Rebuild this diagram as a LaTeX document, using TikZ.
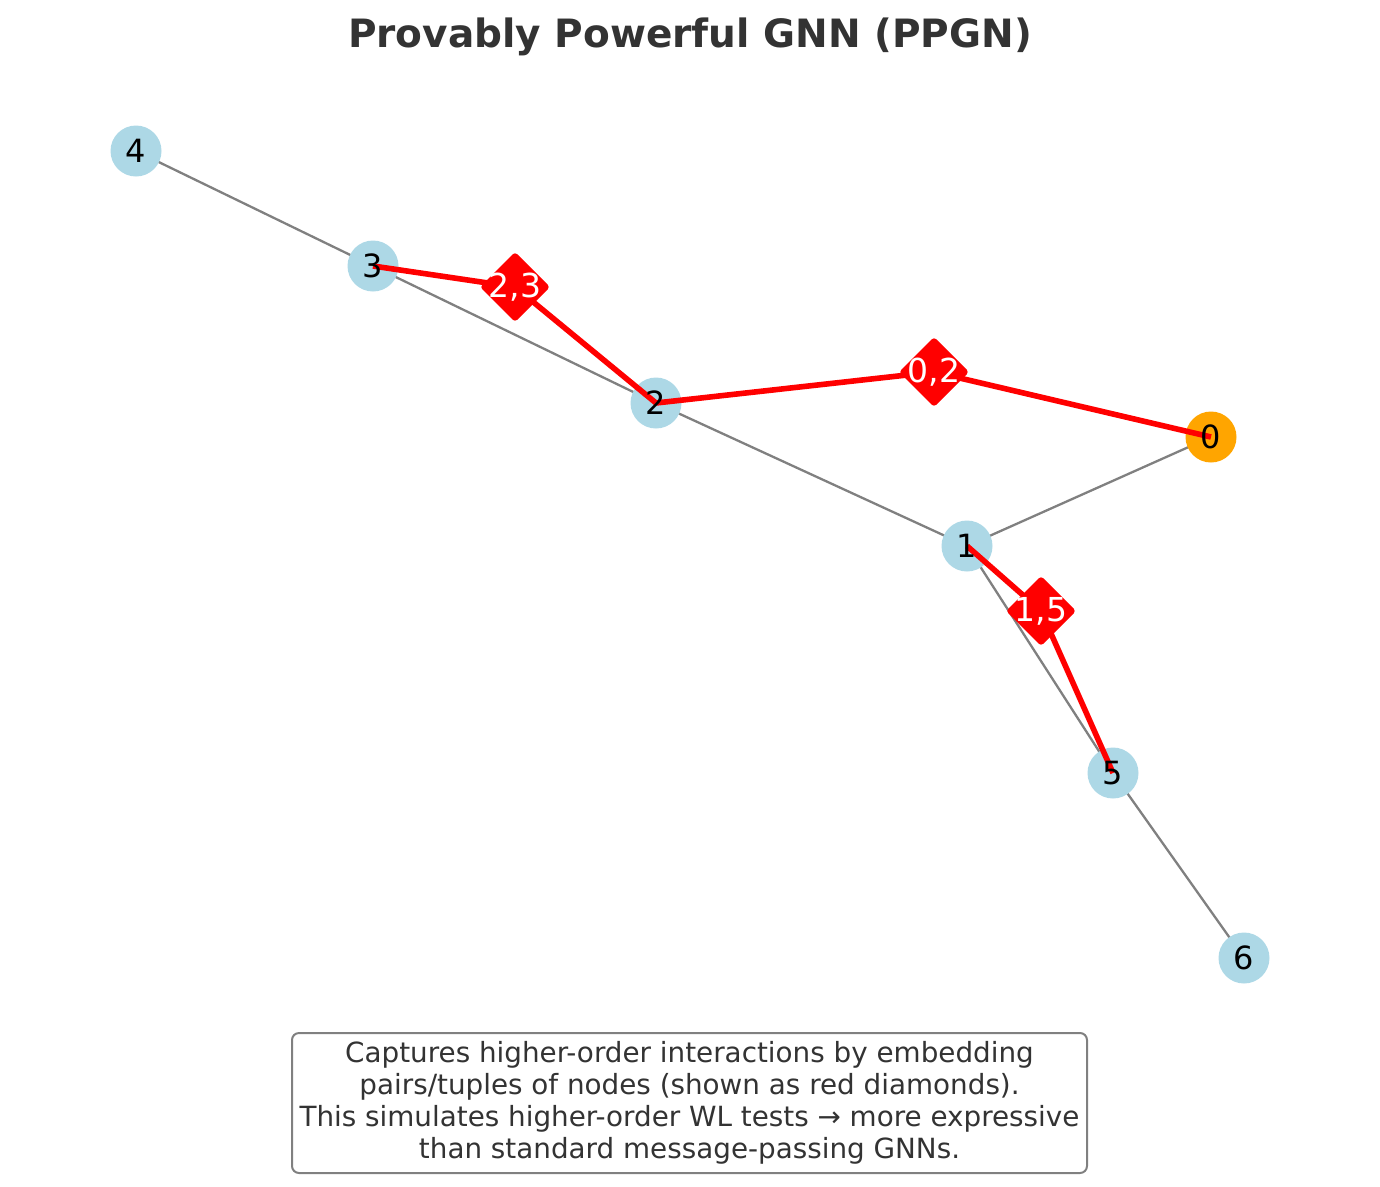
\documentclass[tikz,border=0pt]{standalone}
\usepackage{fontspec}
\setmainfont{DejaVu Sans}
\usetikzlibrary{shapes.geometric}
\definecolor{nodeblue}{HTML}{ADD8E6}
\definecolor{nodeorange}{HTML}{FFA500}
\definecolor{txtgray}{HTML}{333333}
\definecolor{edgegray}{HTML}{808080}
\tikzset{
  gnode/.style={circle,fill=nodeblue,minimum size=51pt,inner sep=0pt},
  onode/.style={circle,fill=nodeorange,minimum size=51pt,inner sep=0pt},
  nlabel/.style={font=\fontsize{32}{38}\selectfont,text=black,inner sep=0pt},
  dlabel/.style={font=\fontsize{33}{39}\selectfont,text=white,inner sep=0pt},
  pairbox/.style={diamond,aspect=1,fill=red,draw=red,line width=3pt,rounded corners=2pt,minimum size=67pt,inner sep=0pt},
  gedge/.style={draw=edgegray,line width=2.3pt},
  redge/.style={draw=red,line width=5.6pt},
}
\begin{document}
\begin{tikzpicture}[x=1pt,y=-1pt]
\useasboundingbox (0,0) rectangle (1380,1186);
% title
\node[font=\bfseries\fontsize{39}{46}\selectfont,text=txtgray] (title) at (690,37) {Provably Powerful GNN (PPGN)};
% coordinates of nodes
\coordinate (p0) at (1211,437);
\coordinate (p1) at (967,546);
\coordinate (p2) at (656,403);
\coordinate (p3) at (373,266);
\coordinate (p4) at (136,151);
\coordinate (p5) at (1113,773);
\coordinate (p6) at (1244,958);
\coordinate (q23) at (515,287);
\coordinate (q02) at (934,372);
\coordinate (q15) at (1041,611);
% gray edges
\draw[gedge] (p4) -- (p3);
\draw[gedge] (p3) -- (p2);
\draw[gedge] (p2) -- (p1);
\draw[gedge] (p1) -- (p0);
\draw[gedge] (p1) -- (p5);
\draw[gedge] (p5) -- (p6);
% circles
\node[onode] (n0) at (p0) {};
\node[gnode] (n1) at (p1) {};
\node[gnode] (n2) at (p2) {};
\node[gnode] (n3) at (p3) {};
\node[gnode] (n4) at (p4) {};
\node[gnode] (n5) at (p5) {};
\node[gnode] (n6) at (p6) {};
% red edges
\draw[redge] (p3) -- (q23);
\draw[redge] (q23) -- (p2);
\draw[redge] (p2) -- (q02);
\draw[redge] (q02) -- (p0);
\draw[redge] (p1) -- (q15);
\draw[redge] (q15) -- (p5);
% diamonds
\node[pairbox] (d23) at (q23) {};
\node[pairbox] (d02) at (q02) {};
\node[pairbox] (d15) at (q15) {};
% labels
\node[dlabel] (l23) at (q23) {2,3};
\node[dlabel] (l02) at (q02) {0,2};
\node[dlabel] (l15) at (q15) {1,5};
\node[nlabel] (l0) at (p0) {0};
\node[nlabel] (l1) at (p1) {1};
\node[nlabel] (l2) at (p2) {2};
\node[nlabel] (l3) at (p3) {3};
\node[nlabel] (l4) at (p4) {4};
\node[nlabel] (l5) at (p5) {5};
\node[nlabel] (l6) at (p6) {6};
% caption
\node[draw=edgegray,line width=2pt,rounded corners=7pt,fill=white,text=txtgray,
  minimum width=795pt,minimum height=140pt,align=center,inner sep=0pt,
  font=\fontsize{27.8}{31.8}\selectfont] (cap) at (689.5,1103)
  {Captures higher-order interactions by embedding\\pairs/tuples of nodes (shown as red diamonds).\\This simulates higher-order WL tests → more expressive\\than standard message-passing GNNs.};
\end{tikzpicture}
\end{document}
